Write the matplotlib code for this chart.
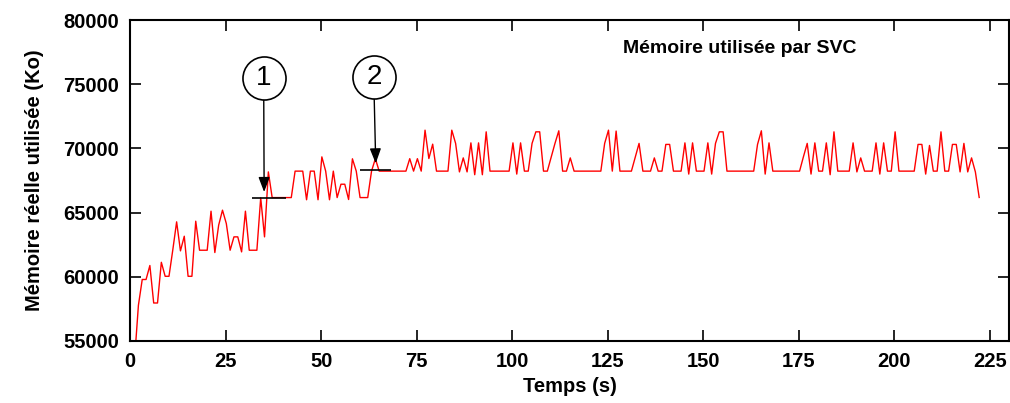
import matplotlib as mpl
mpl.use('Agg')

import matplotlib.pyplot as plt
import numpy as np

plt.rcParams['font.family'] = ['Liberation Sans', 'DejaVu Sans']

# Memory samples (Ko), one per second
t_start = 1.2
t_step = 1.0
memoire = [
    53600, 57780, 59790, 59790, 60880, 57960, 57960, 61130, 60040, 60040,
    62100, 64280, 62020, 63160, 60040, 60040, 64330, 62070, 62070, 62070,
    65110, 61890, 64020, 65190, 64150, 62070, 63110, 63110, 61940, 65110,
    62070, 62070, 62070, 66150, 63110, 68170, 66170, 66170, 66170, 66170,
    66170, 66170, 68230, 68230, 68230, 66000, 68230, 68230, 66000, 69340,
    68230, 66000, 68230, 66170, 67210, 67210, 66020, 69190, 68230, 66170,
    66170, 66170, 68230, 69200, 68230, 68230, 68230, 68230, 68230, 68230,
    68230, 68230, 69200, 68230, 69200, 68230, 71420, 69210, 70330, 68230,
    68230, 68230, 68230, 71420, 70390, 68170, 69260, 68170, 70430, 67950,
    70430, 67950, 71290, 68230, 68230, 68230, 68230, 68230, 68230, 70430,
    68000, 70430, 68230, 68230, 70390, 71290, 71290, 68230, 68230, 69300,
    70390, 71370, 68230, 68230, 69260, 68230, 68230, 68230, 68230, 68230,
    68230, 68230, 68230, 70390, 71420, 68230, 71350, 68230, 68230, 68230,
    68230, 69300, 70390, 68230, 68230, 68230, 69260, 68230, 68230, 70310,
    70310, 68230, 68230, 68230, 70430, 68000, 70430, 68230, 68230, 68230,
    70430, 68000, 70390, 71290, 71290, 68230, 68230, 68230, 68230, 68230,
    68230, 68230, 68230, 70310, 71370, 68000, 70430, 68230, 68230, 68230,
    68230, 68230, 68230, 68230, 68230, 69340, 70390, 68000, 70430, 68230,
    68230, 70430, 67950, 71290, 68230, 68230, 68230, 68230, 70430, 68170,
    69260, 68230, 68230, 68230, 70430, 68000, 70430, 68230, 68230, 71290,
    68230, 68230, 68230, 68230, 68230, 70310, 70310, 68000, 70230, 68230,
    68230, 71290, 68230, 68230, 70310, 70310, 68170, 70390, 68170, 69260,
    68170, 66180,
]
temps = t_start + t_step * np.arange(len(memoire))

# markers: label, circle centre, arrow start, arrow tip, level line
marques = [
    ('1', (35.0, 75450), (35.0, 73750), (35.1, 66600), (32.0, 40.7, 66170)),
    ('2', (63.9, 75580), (63.9, 73900), (64.3, 68830), (60.1, 68.4, 68280)),
]

fig = plt.figure(figsize=(10.1, 4.03), dpi=100)
ax = fig.add_axes([130 / 1010, 62 / 403, 879 / 1010, 321 / 403])

ax.plot(temps, memoire, color='#ff0000', linewidth=1.0, zorder=2)

for label, centre, debut, pointe, niveau in marques:
    ax.hlines(niveau[2], niveau[0], niveau[1], colors='black', linewidth=1.2, zorder=3)
    ax.annotate('', xy=pointe, xytext=debut,
                arrowprops=dict(arrowstyle='-|>,head_length=0.45,head_width=0.17',
                                color='black', lw=1.0, mutation_scale=20,
                                shrinkA=0, shrinkB=0), zorder=4)
    ax.plot(*centre, marker='o', markersize=31, markerfacecolor='white',
            markeredgecolor='black', markeredgewidth=1.2, zorder=5)
    ax.text(centre[0], centre[1], label, ha='center', va='center',
            fontsize=20, zorder=6)

ax.set_xlim(0, 230)
ax.set_ylim(55000, 80000)
ax.set_xticks(np.arange(0, 226, 25))
ax.set_yticks(np.arange(55000, 80001, 5000))

ax.tick_params(direction='in', length=8, width=1.2, top=True, right=True,
               labelsize=14.5, pad=8)
for lab in ax.get_xticklabels() + ax.get_yticklabels():
    lab.set_fontweight('bold')
for sp in ax.spines.values():
    sp.set_linewidth(1.5)

ax.set_xlabel('Temps (s)', fontsize=14.5, fontweight='bold', labelpad=4)
ax.set_ylabel('Mémoire réelle utilisée (Ko)', fontsize=14.5, fontweight='bold',
              labelpad=14)

ax.text(0.561, 0.91, 'Mémoire utilisée par SVC', transform=ax.transAxes,
        fontsize=14, fontweight='bold', ha='left', va='center')

fig.savefig('out.png', dpi=100)
